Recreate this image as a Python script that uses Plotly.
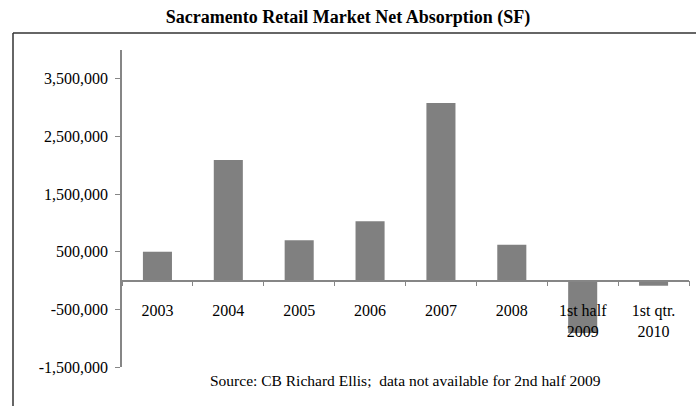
import plotly.graph_objects as go

# Net absorption by period (square feet)
periods = ["2003", "2004", "2005", "2006", "2007", "2008", "1st half<br>2009", "1st qtr.<br>2010"]
net_absorption = [500000, 2090000, 700000, 1030000, 3080000, 620000, -910000, -90000]

y_min, y_max = -1500000, 4000000
y_ticks = [-1500000, -500000, 500000, 1500000, 2500000, 3500000]
y_tick_text = ["-1,500,000", "-500,000", "500,000", "1,500,000", "2,500,000", "3,500,000"]

FONT = "Liberation Serif, Times New Roman, serif"
AXIS_GRAY = "#868686"
BAR_GRAY = "#808080"

fig = go.Figure(
    go.Bar(
        x=periods,
        y=net_absorption,
        marker=dict(color=BAR_GRAY, line=dict(width=0)),
        hoverinfo="skip",
    )
)

# The category axis sits on the zero line of the value axis
zero_pos = (0 - y_min) / (y_max - y_min)

fig.update_layout(
    width=696,
    height=406,
    margin=dict(l=122, r=7, t=50, b=39),
    paper_bgcolor="white",
    plot_bgcolor="white",
    showlegend=False,
    bargap=0.59,
    font=dict(family=FONT, size=16, color="black"),
    title=dict(
        text="<b>Sacramento Retail Market Net Absorption (SF)</b>",
        x=0.5,
        xref="container",
        xanchor="center",
        y=1 - 17 / 406,
        yanchor="middle",
        font=dict(family=FONT, size=18, color="black"),
    ),
    xaxis=dict(
        type="category",
        anchor="free",
        position=zero_pos,
        showline=True,
        linecolor=AXIS_GRAY,
        linewidth=1.5,
        showgrid=False,
        zeroline=False,
        ticks="outside",
        tickson="boundaries",
        ticklen=5,
        tickcolor=AXIS_GRAY,
        tickwidth=1,
        ticklabelstandoff=16,
        tickfont=dict(family=FONT, size=16, color="black"),
    ),
    yaxis=dict(
        range=[y_min, y_max],
        tickvals=y_ticks,
        ticktext=y_tick_text,
        showline=True,
        linecolor=AXIS_GRAY,
        linewidth=1.5,
        showgrid=False,
        zeroline=False,
        ticks="outside",
        ticklen=5,
        tickcolor=AXIS_GRAY,
        tickwidth=1,
        ticklabelstandoff=4,
        tickfont=dict(family=FONT, size=16, color="black"),
    ),
)

# Outer frame: top and left edges of the chart box
plot_w = 696 - 122 - 7
plot_h = 406 - 50 - 39
frame_left = (13 - 122) / plot_w
frame_top = (406 - 39 - 33) / plot_h
frame_bottom = (406 - 39 - 410) / plot_h
frame_right = (700 - 122) / plot_w
fig.add_shape(type="line", xref="paper", yref="paper",
              x0=frame_left, x1=frame_right, y0=frame_top, y1=frame_top,
              line=dict(color="#333333", width=1.5))
fig.add_shape(type="line", xref="paper", yref="paper",
              x0=frame_left, x1=frame_left, y0=frame_top, y1=frame_bottom,
              line=dict(color="#333333", width=1.5))

fig.add_annotation(
    text="Source: CB Richard Ellis;  data not available for 2nd half 2009",
    xref="paper", yref="paper",
    x=(405 - 122) / plot_w,
    y=(406 - 39 - 380) / plot_h,
    xanchor="center", yanchor="middle",
    showarrow=False,
    font=dict(family=FONT, size=15.5, color="black"),
)

fig.write_html("out.html")
